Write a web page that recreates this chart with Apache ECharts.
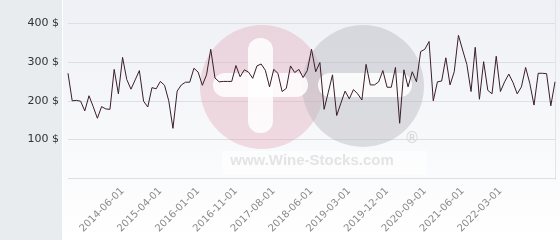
<!DOCTYPE html>
<html>
<head>
<meta charset="utf-8">
<script src="https://cdn.jsdelivr.net/npm/echarts@6/dist/echarts.min.js"></script>
<style>
html,body{margin:0;padding:0;background:#fff;}
#chart{width:560px;height:240px;}
</style>
</head>
<body>
<div id="chart"></div>
<script>
var categories = [
'2013-05-01','2013-06-01','2013-07-01','2013-08-01','2013-09-01','2013-10-01','2013-11-01','2013-12-01',
'2014-01-01','2014-02-01','2014-03-01','2014-04-01','2014-05-01','2014-06-01','2014-07-01','2014-08-01',
'2014-09-01','2014-10-01','2014-11-01','2015-01-01','2015-02-01','2015-03-01','2015-04-01','2015-05-01',
'2015-06-01','2015-07-01','2015-08-01','2015-09-01','2015-10-01','2015-11-01','2015-12-01','2016-01-01',
'2016-02-01','2016-03-01','2016-04-01','2016-05-01','2016-06-01','2016-08-01','2016-09-01','2016-10-01',
'2016-11-01','2016-12-01','2017-01-01','2017-02-01','2017-03-01','2017-04-01','2017-05-01','2017-06-01',
'2017-07-01','2017-08-01','2017-09-01','2017-10-01','2017-11-01','2017-12-01','2018-02-01','2018-03-01',
'2018-04-01','2018-05-01','2018-06-01','2018-07-01','2018-08-01','2018-09-01','2018-10-01','2018-11-01',
'2018-12-01','2019-01-01','2019-02-01','2019-03-01','2019-04-01','2019-05-01','2019-06-01','2019-07-01',
'2019-08-01','2019-09-01','2019-10-01','2019-11-01','2019-12-01','2020-01-01','2020-02-01','2020-03-01',
'2020-04-01','2020-05-01','2020-06-01','2020-07-01','2020-08-01','2020-09-01','2020-10-01','2020-11-01',
'2020-12-01','2021-01-01','2021-02-01','2021-03-01','2021-04-01','2021-05-01','2021-06-01','2021-07-01',
'2021-08-01','2021-09-01','2021-10-01','2021-11-01','2021-12-01','2022-01-01','2022-02-01','2022-03-01',
'2022-04-01','2022-05-01','2022-06-01','2022-07-01','2022-08-01','2022-09-01','2022-10-01','2022-11-01',
'2022-12-01','2023-01-01','2023-02-01','2023-03-01','2023-04-01'
];
var prices = [
271,200,201,199,174,213,185,155,185,179,178,281,218,312,255,230,254,278,199,184,
234,231,250,240,200,129,225,241,248,248,284,274,240,267,333,259,249,250,250,250,
291,262,280,274,258,290,295,279,236,281,271,224,232,290,273,281,260,278,333,275,
299,178,222,267,162,194,225,205,229,218,202,294,241,241,249,278,235,235,286,142,
280,236,275,249,327,333,353,200,249,251,311,241,275,369,331,294,224,338,204,301,
227,218,315,224,249,269,247,218,236,286,245,189,271,271,270,187,249
];
var shownLabels = ['2014-06-01','2015-04-01','2016-01-01','2016-11-01','2017-08-01','2018-06-01',
  '2019-03-01','2019-12-01','2020-09-01','2021-06-01','2022-03-01'];
var yTicks = [0,100,200,300,400];

var chart = echarts.init(document.getElementById('chart'), null, {renderer:'canvas'});
chart.setOption({
  animation:false,
  backgroundColor:'#ffffff',
  textStyle:{fontFamily:'DejaVu Sans'},
  graphic:[
    {type:'rect', z:-10, silent:true, shape:{x:0,y:0,width:62,height:240}, style:{fill:'#e8ecef'}},
    {type:'rect', z:-10, silent:true, shape:{x:63,y:0,width:497,height:240},
      style:{fill:new echarts.graphic.LinearGradient(0,0,0,1,[{offset:0,color:'#eef0f5'},{offset:1,color:'#ffffff'}])}},
    {type:'line', z:-9, silent:true, shape:{x1:555.5,y1:0,x2:555.5,y2:180}, style:{stroke:'#e2e4e8',lineWidth:1}},
    {type:'circle', z:1, silent:true, shape:{cx:262,cy:87,r:62}, style:{fill:'rgba(225,165,182,0.38)'}},
    {type:'circle', z:1, silent:true, shape:{cx:363,cy:86,r:61}, style:{fill:'rgba(185,185,190,0.45)'}},
    {type:'rect', z:1, silent:true, shape:{x:248,y:38,width:25,height:95,r:12}, style:{fill:'rgba(255,255,255,0.85)'}},
    {type:'rect', z:1, silent:true, shape:{x:213,y:73,width:95,height:24,r:12}, style:{fill:'rgba(255,255,255,0.85)'}},
    {type:'rect', z:1, silent:true, shape:{x:318,y:73,width:94,height:24,r:12}, style:{fill:'rgba(255,255,255,0.85)'}},
    {type:'rect', z:1, silent:true, shape:{x:222,y:151,width:205,height:24}, style:{fill:'rgba(255,255,255,0.5)'}},
    {type:'text', z:1, silent:true, style:{x:312,y:161,text:'www.Wine-Stocks.com',fill:'#e4e4e4',
      font:'bold 15px "Liberation Sans", Arial, sans-serif',align:'center',verticalAlign:'middle'}},
    {type:'text', z:1, silent:true, style:{x:412,y:139,text:'®',fill:'#d6d6d6',
      font:'15px "DejaVu Sans", sans-serif',align:'center',verticalAlign:'middle'}}
  ],
  grid:{left:68,right:5,top:23.3,bottom:61.7,containLabel:false},
  xAxis:{
    type:'category',
    data:categories,
    boundaryGap:false,
    axisLine:{show:false},
    axisTick:{show:false},
    splitLine:{show:false},
    axisLabel:{
      rotate:45,
      margin:11,
      color:'#8a8a8a',
      fontSize:10,
      fontFamily:'DejaVu Sans',
      interval:function(i, v){ return shownLabels.indexOf(v) >= 0; }
    }
  },
  yAxis:{
    type:'value',
    min:yTicks[0],
    max:yTicks[yTicks.length-1],
    interval:100,
    axisLine:{show:false},
    axisTick:{show:false},
    splitLine:{lineStyle:{color:'#dddfe3',width:1}},
    axisLabel:{
      margin:9,
      color:'#333333',
      fontSize:11,
      fontFamily:'DejaVu Sans',
      formatter:function(v){ return v === 0 ? '' : v + ' $'; }
    }
  },
  series:[{
    type:'line',
    data:prices,
    symbol:'none',
    z:5,
    lineStyle:{color:'#3a1e2a',width:1},
    emphasis:{disabled:true}
  }]
});
</script>
</body>
</html>
